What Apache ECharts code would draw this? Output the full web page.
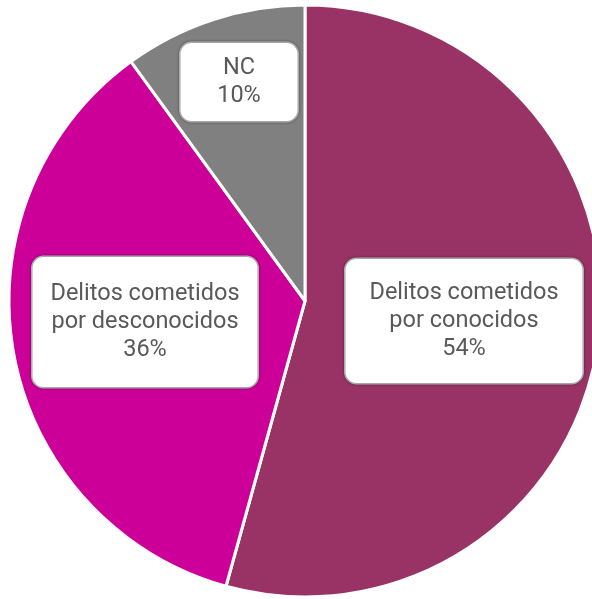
<!DOCTYPE html>
<html><head><meta charset="utf-8">
<script src="https://cdn.jsdelivr.net/npm/echarts@6/dist/echarts.min.js"></script>
<style>html,body{margin:0;padding:0;background:#fff}#c{width:592px;height:599px}</style>
</head><body><div id="c"></div>
<script>
const categories = ['Delitos cometidos\npor conocidos', 'Delitos cometidos\npor desconocidos', 'NC'];
const values = [54.3, 35.7, 10.0];
const colors = ['#993366', '#CC0099', '#808080'];

// label anchor positions (px), box widths and vertical paddings
const labelPos = [[464, 321], [145, 322], [239, 82]];
const labelW = [237, 225, 117];
const labelVPad = [20, 23, 11];

const chart = echarts.init(document.getElementById('c'));
chart.setOption({
  animation: false,
  series: [{
    type: 'pie',
    center: [305, 301],
    radius: 296,
    startAngle: 90,
    clockwise: true,
    itemStyle: { borderColor: '#ffffff', borderWidth: 3 },
    label: {
      show: true,
      position: 'inside',
      formatter: p => p.name + '\n' + Math.round(p.value) + '%',
      fontFamily: 'Roboto',
      fontSize: 23.5,
      lineHeight: 28,
      color: '#595959',
      align: 'center',
      backgroundColor: '#ffffff',
      borderColor: '#bfbfbf',
      borderWidth: 1.5,
      borderRadius: 11,
      shadowColor: 'rgba(0,0,0,0.35)',
      shadowBlur: 3
    },
    labelLayout: p => ({ x: labelPos[p.dataIndex][0], y: labelPos[p.dataIndex][1], align: 'center', verticalAlign: 'middle' }),
    labelLine: { show: false },
    emphasis: { disabled: true },
    data: categories.map((n, i) => ({
      name: n, value: values[i],
      itemStyle: { color: colors[i] },
      label: { width: labelW[i], padding: [labelVPad[i], 0] }
    }))
  }]
});
</script></body></html>
